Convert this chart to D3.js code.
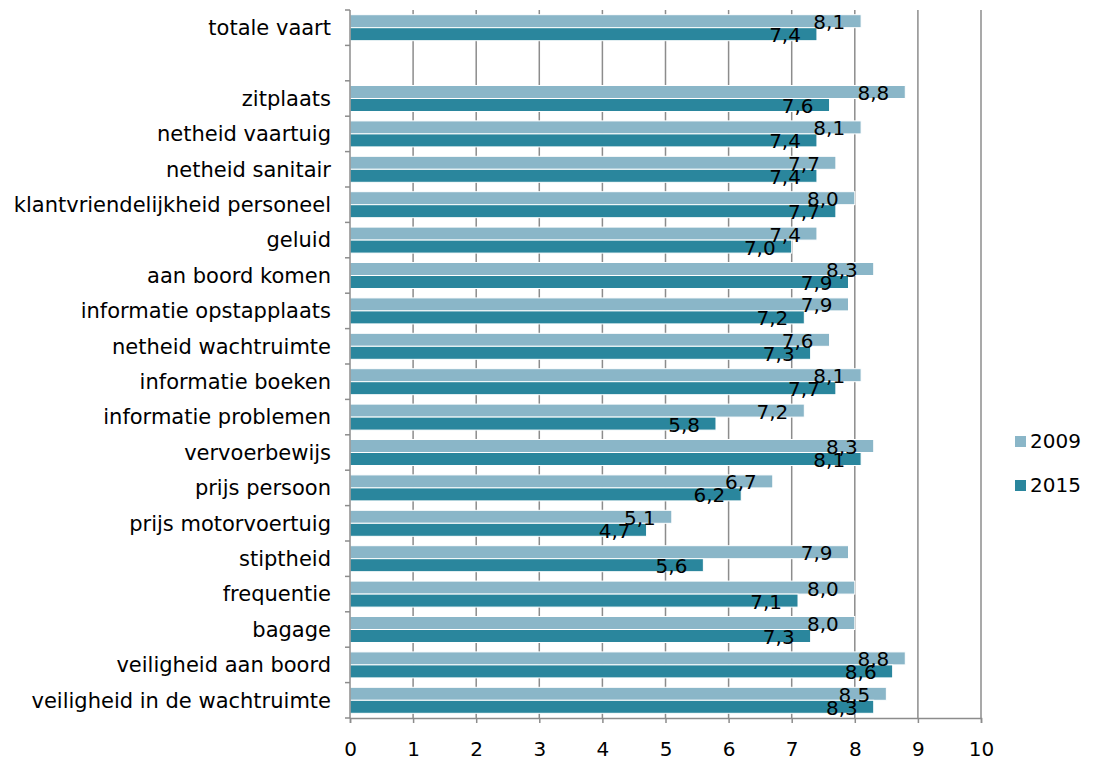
<!DOCTYPE html>
<html>
<head>
<meta charset="utf-8">
<script src="https://cdn.jsdelivr.net/npm/d3@7"></script>
<style>
  html, body { margin: 0; padding: 0; background: #fff; }
  svg { display: block; font-family: "DejaVu Sans", Verdana, sans-serif; }
</style>
</head>
<body>
<svg id="chart" width="1119" height="760"></svg>
<script>
// Tevredenheidsscores per aspect, 2009 en 2015 (leeg item = witregel)
const categories = [
  "totale vaart", "",
  "zitplaats", "netheid vaartuig", "netheid sanitair",
  "klantvriendelijkheid personeel", "geluid", "aan boord komen",
  "informatie opstapplaats", "netheid wachtruimte", "informatie boeken",
  "informatie problemen", "vervoerbewijs", "prijs persoon",
  "prijs motorvoertuig", "stiptheid", "frequentie", "bagage",
  "veiligheid aan boord", "veiligheid in de wachtruimte"
];
const values2009 = [8.1, null, 8.8, 8.1, 7.7, 8.0, 7.4, 8.3, 7.9, 7.6, 8.1, 7.2, 8.3, 6.7, 5.1, 7.9, 8.0, 8.0, 8.8, 8.5];
const values2015 = [7.4, null, 7.6, 7.4, 7.4, 7.7, 7.0, 7.9, 7.2, 7.3, 7.7, 5.8, 8.1, 6.2, 4.7, 5.6, 7.1, 7.3, 8.6, 8.3];
const seriesNames = ["2009", "2015"];
const xTicks = [0, 1, 2, 3, 4, 5, 6, 7, 8, 9, 10];

const colors = { "2009": "#8ab6c8", "2015": "#2a869d" };
const gridColor = "#8c8c8c";
const numSize = 20;
const catSize = 21;

const svg = d3.select("#chart");
const margin = { left: 350, right: 138, top: 10, bottom: 42 };
const W = 1119, H = 760;

const x = d3.scaleLinear().domain([0, 10]).range([margin.left, W - margin.right]);
const y = d3.scaleBand().domain(d3.range(categories.length))
  .range([margin.top, H - margin.bottom]).paddingInner(0).paddingOuter(0);
const barH = 13;

// vertical gridlines
svg.append("g").selectAll("line").data(xTicks.filter(t => t > 0)).join("line")
  .attr("x1", d => x(d)).attr("x2", d => x(d))
  .attr("y1", margin.top).attr("y2", H - margin.bottom)
  .attr("stroke", gridColor).attr("stroke-width", 1.5);

// bars
const rows = categories.map((c, i) => ({ i, c, v: [values2009[i], values2015[i]] }));
const barData = [];
rows.forEach(r => seriesNames.forEach((s, k) => {
  if (r.v[k] != null) barData.push({ i: r.i, k, s, v: r.v[k] });
}));
const groupTop = d => y(d.i) + (y.bandwidth() - 2 * barH) / 2;

svg.append("g").selectAll("rect").data(barData).join("rect")
  .attr("x", x(0))
  .attr("y", d => groupTop(d) + d.k * barH)
  .attr("width", d => x(d.v) - x(0))
  .attr("height", barH)
  .attr("fill", d => colors[d.s])
  .attr("stroke", "#fff").attr("stroke-width", 1);

// value labels
const fmt = v => v.toFixed(1).replace(".", ",");
svg.append("g").selectAll("text").data(barData).join("text")
  .attr("x", d => x(d.v) - 16)
  .attr("y", d => groupTop(d) + d.k * barH + barH / 2 + 8)
  .attr("text-anchor", "end")
  .attr("font-size", numSize)
  .attr("fill", "#000")
  .text(d => fmt(d.v));

// left axis line with ticks between categories
const yAxis = svg.append("g");
yAxis.append("line")
  .attr("x1", x(0)).attr("x2", x(0))
  .attr("y1", margin.top).attr("y2", H - margin.bottom)
  .attr("stroke", gridColor).attr("stroke-width", 1.5);
yAxis.selectAll("line.tick").data(d3.range(categories.length + 1)).join("line")
  .attr("class", "tick")
  .attr("x1", x(0) - 5).attr("x2", x(0))
  .attr("y1", i => margin.top + i * y.step()).attr("y2", i => margin.top + i * y.step())
  .attr("stroke", gridColor).attr("stroke-width", 1.5);
yAxis.selectAll("text").data(rows).join("text")
  .attr("x", 331)
  .attr("y", d => y(d.i) + y.bandwidth() / 2)
  .attr("dy", "0.35em")
  .attr("text-anchor", "end")
  .attr("font-size", catSize)
  .attr("fill", "#000")
  .text(d => d.c);

// bottom axis
const xAxis = d3.axisBottom(x).tickValues(xTicks).tickSize(5).tickPadding(19).tickFormat(d3.format("d"));
const gx = svg.append("g").attr("transform", `translate(0,${H - margin.bottom})`).call(xAxis);
gx.select(".domain").attr("stroke", gridColor).attr("stroke-width", 1.5);
gx.selectAll(".tick line").attr("stroke", gridColor).attr("stroke-width", 1.5);
gx.selectAll(".tick text").attr("font-size", numSize).attr("fill", "#000")
  .attr("font-family", "DejaVu Sans, Verdana, sans-serif");

// legend
const legend = svg.append("g").selectAll("g").data(seriesNames).join("g")
  .attr("transform", (d, i) => `translate(1015,${441 + i * 44})`);
legend.append("rect").attr("x", 0).attr("y", -5).attr("width", 11).attr("height", 11)
  .attr("fill", d => colors[d]);
legend.append("text").attr("x", 15).attr("y", 0).attr("dy", "0.35em")
  .attr("font-size", numSize).attr("fill", "#000").text(d => d);
</script>
</body>
</html>
